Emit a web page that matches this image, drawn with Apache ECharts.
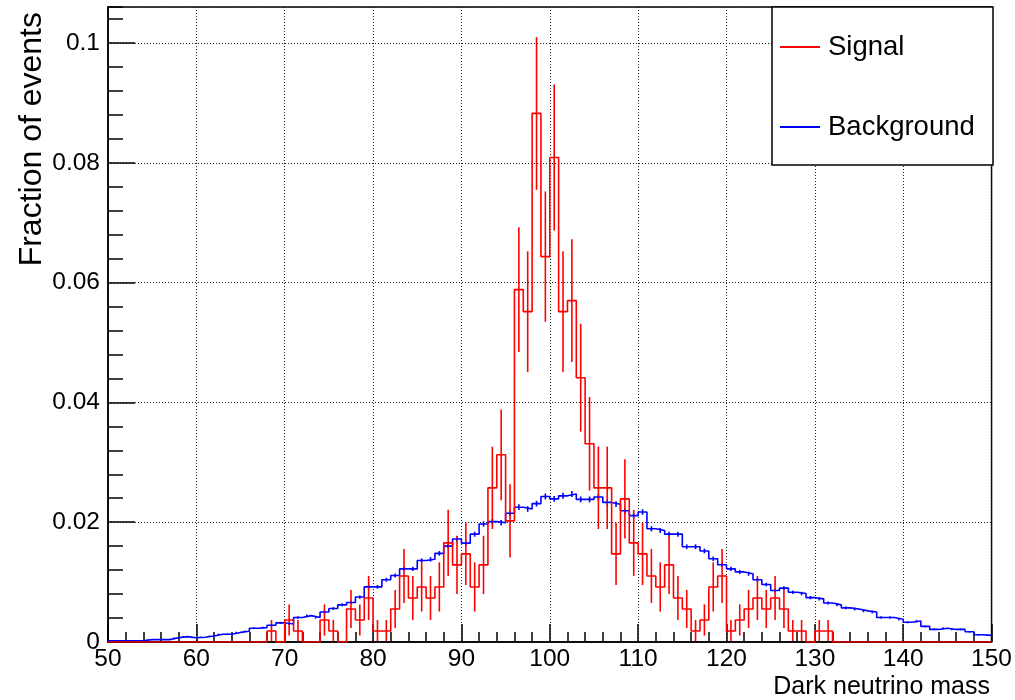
<!DOCTYPE html>
<html>
<head>
<meta charset="utf-8">
<script src="https://cdn.jsdelivr.net/npm/echarts@6/dist/echarts.min.js"></script>
<style>
  html, body { margin: 0; padding: 0; background: #fff; }
  #chart { width: 1015px; height: 700px; }
</style>
</head>
<body>
<div id="chart"></div>
<script>
// bins of width 1 from 50 to 150
const binLow = 50;
const binWidth = 1;

// signal: entries per bin (histogram is normalised to the total)
const signalCounts = [
  0, 0, 0, 0, 0, 0, 0, 0, 0, 0,   // 50-59
  0, 0, 0, 0, 0, 0, 0, 0, 1, 0,   // 60-69
  2, 1, 0, 0, 2, 1, 0, 3, 2, 4,   // 70-79
  1, 1, 3, 6, 4, 5, 4, 5, 9, 7,   // 80-89
  8, 5, 7, 14, 17, 11, 32, 30, 48, 35, // 90-99
  44, 30, 31, 24, 18, 14, 14, 8, 13, 9, // 100-109
  8, 6, 5, 7, 4, 3, 1, 2, 5, 6,   // 110-119
  1, 2, 3, 4, 3, 4, 3, 1, 1, 0,   // 120-129
  1, 1, 0, 0, 0, 0, 0, 0, 0, 0,   // 130-139
  0, 0, 0, 0, 0, 0, 0, 0, 0, 0    // 140-149
];

// background: fraction of events per bin
const backgroundFrac = [
  0.0002, 0.0002, 0.0002, 0.0002, 0.0004, 0.0004, 0.0004, 0.0007, 0.0009, 0.0007, // 50-59
  0.0008, 0.0010, 0.0013, 0.0013, 0.0016, 0.0018, 0.0023, 0.0024, 0.0028, 0.0032, // 60-69
  0.0030, 0.0041, 0.0044, 0.0041, 0.0050, 0.0056, 0.0062, 0.0066, 0.0075, 0.0092, // 70-79
  0.0092, 0.0104, 0.0111, 0.0122, 0.0122, 0.0136, 0.0138, 0.0148, 0.0160, 0.0172, // 80-89
  0.0165, 0.0180, 0.0197, 0.0201, 0.0199, 0.0215, 0.0225, 0.0222, 0.0231, 0.0243, // 90-99
  0.0239, 0.0244, 0.0247, 0.0238, 0.0238, 0.0242, 0.0233, 0.0230, 0.0219, 0.0211, // 100-109
  0.0217, 0.0189, 0.0186, 0.0180, 0.0180, 0.0159, 0.0159, 0.0152, 0.0139, 0.0129, // 110-119
  0.0122, 0.0117, 0.0114, 0.0104, 0.0096, 0.0086, 0.0090, 0.0083, 0.0081, 0.0074, // 120-129
  0.0072, 0.0065, 0.0062, 0.0057, 0.0055, 0.0052, 0.0050, 0.0041, 0.0041, 0.0038, // 130-139
  0.0033, 0.0035, 0.0026, 0.0021, 0.0023, 0.0021, 0.0021, 0.0017, 0.0012, 0.0011  // 140-149
];
const backgroundEntries = 100000;

const seriesNames = ['Signal', 'Background'];
const xTitle = 'Dark neutrino mass';
const yTitle = 'Fraction of events';

const signalTotal = signalCounts.reduce((a, b) => a + b, 0);
const signalFrac = signalCounts.map(c => c / signalTotal);

// step outline: one point per bin low edge, plus the last high edge
function stepData(vals) {
  const d = vals.map((v, i) => [binLow + i * binWidth, v]);
  d.push([binLow + vals.length * binWidth, vals[vals.length - 1]]);
  return d;
}

// vertical error bars at the bin centres
const signalErrors = [];
signalCounts.forEach(function (c, i) {
  if (c > 0) {
    const v = c / signalTotal, e = Math.sqrt(c) / signalTotal;
    signalErrors.push([binLow + (i + 0.5) * binWidth, v - e, v + e]);
  }
});
const backgroundErrors = backgroundFrac.map(function (v, i) {
  const e = Math.sqrt(v / backgroundEntries);
  return [binLow + (i + 0.5) * binWidth, v - e, v + e];
});

function renderErr(params, api) {
  const a = api.coord([api.value(0), api.value(1)]);
  const b = api.coord([api.value(0), api.value(2)]);
  return {
    type: 'line',
    shape: { x1: a[0], y1: a[1], x2: b[0], y2: b[1] },
    style: { stroke: api.visual('color'), lineWidth: 1.6 }
  };
}

const font = 'Liberation Sans';
const gridLine = { color: '#222', type: [1, 2], width: 1 };
const myChart = echarts.init(document.getElementById('chart'));

const option = {
  animation: false,
  color: ['#ff0000', '#0000ff'],
  grid: {
    left: 108, right: 22, top: 7, bottom: 58,
    show: true, borderColor: '#000', borderWidth: 1.5, backgroundColor: '#fff'
  },
  legend: {
    data: seriesNames,
    orient: 'vertical',
    left: 775,
    top: 28,
    itemGap: 52,
    icon: 'rect',
    itemWidth: 40,
    itemHeight: 2,
    z: 6,
    textStyle: { fontFamily: font, fontSize: 27.5, color: '#000', padding: [0, 0, 0, 3] }
  },
  graphic: [
    {
      type: 'rect', z: 5,
      shape: { x: 772, y: 7, width: 221, height: 158 },
      style: { fill: '#fff', stroke: '#000', lineWidth: 1.5 }
    },
    {
      type: 'text', x: 32, y: 12, rotation: Math.PI / 2,
      style: { text: yTitle, font: '32px "Liberation Sans"', fill: '#000', align: 'right', verticalAlign: 'middle' }
    },
    {
      type: 'text', x: 990, y: 687,
      style: { text: xTitle, font: '25px "Liberation Sans"', fill: '#000', align: 'right', verticalAlign: 'middle' }
    }
  ],
  xAxis: {
    type: 'value',
    min: 50, max: 150, interval: 10,
    z: 3,
    axisLine: { show: true, onZero: false, lineStyle: { color: '#000', width: 1.5 } },
    axisTick: { show: true, inside: true, length: 18, lineStyle: { color: '#000', width: 1.5 } },
    minorTick: { show: true, splitNumber: 5, length: 10, lineStyle: { color: '#000', width: 1.5 } },
    splitLine: { show: true, lineStyle: gridLine },
    axisLabel: { fontFamily: font, fontSize: 24.5, color: '#000', margin: 5 }
  },
  yAxis: [
    {
      type: 'value',
      min: 0, max: 0.106, interval: 0.02,
      z: 3,
      axisLine: { show: true, lineStyle: { color: '#000', width: 1.5 } },
      axisTick: { show: true, inside: true, length: 27, lineStyle: { color: '#000', width: 1.5 } },
      splitLine: { show: true, lineStyle: gridLine },
      axisLabel: { fontFamily: font, fontSize: 24.5, color: '#000', margin: 8, showMaxLabel: false }
    },
    {
      // minor ticks only
      type: 'value',
      position: 'left',
      min: 0, max: 0.106, interval: 0.004,
      z: 3,
      axisLine: { show: false },
      axisTick: { show: true, inside: true, length: 15, lineStyle: { color: '#000', width: 1.5 } },
      splitLine: { show: false },
      axisLabel: { show: false }
    }
  ],
  series: [
    {
      name: 'Background',
      type: 'line',
      step: 'end',
      symbol: 'none',
      color: '#0000ff',
      lineStyle: { width: 1.6, color: '#0000ff' },
      data: stepData(backgroundFrac)
    },
    {
      name: 'Background',
      type: 'custom',
      color: '#0000ff',
      renderItem: renderErr,
      encode: { x: 0, y: [1, 2] },
      data: backgroundErrors
    },
    {
      name: 'Signal',
      type: 'line',
      step: 'end',
      symbol: 'none',
      color: '#ff0000',
      lineStyle: { width: 1.6, color: '#ff0000' },
      data: stepData(signalFrac)
    },
    {
      name: 'Signal',
      type: 'custom',
      color: '#ff0000',
      renderItem: renderErr,
      encode: { x: 0, y: [1, 2] },
      data: signalErrors
    }
  ]
};

myChart.setOption(option);
</script>
</body>
</html>
